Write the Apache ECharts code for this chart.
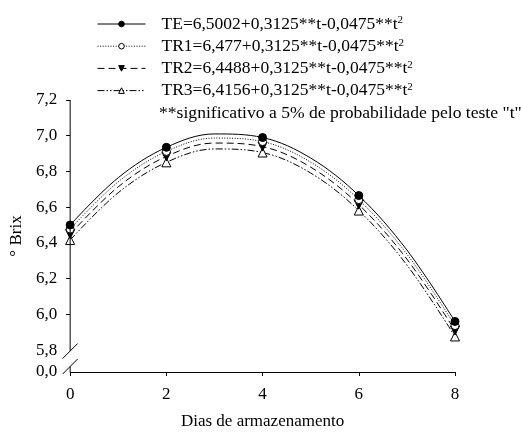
<!DOCTYPE html>
<html>
<head>
<meta charset="utf-8">
<script src="https://cdn.jsdelivr.net/npm/echarts@6/dist/echarts.min.js"></script>
<style>
html,body{margin:0;padding:0;background:#fff}
#c{width:521px;height:435px}
</style>
</head>
<body>
<div id="c"></div>
<script>
// Storage time (days) at which the fitted curves are traced; markers only on sampled days
const days = [0, 1, 2, 3, 4, 5, 6, 7, 8];
const sampledDays = [0, 2, 4, 6, 8];

// Treatments and the intercepts of their fitted equations
const seriesNames = ['TE', 'TR1', 'TR2', 'TR3'];
const intercepts = ['6,5002', '6,477', '6,4488', '6,4156'];
const equationTail = '+0,3125**t-0,0475**t';
const noteText = '**significativo a 5% de probabilidade pelo teste "t"';

// °Brix along each curve, t = 0..8
const brixTE  = [6.500, 6.765, 6.935, 7.010, 6.990, 6.875, 6.665, 6.360, 5.960];
const brixTR1 = [6.477, 6.742, 6.912, 6.987, 6.967, 6.852, 6.642, 6.337, 5.937];
const brixTR2 = [6.449, 6.714, 6.884, 6.959, 6.939, 6.824, 6.614, 6.309, 5.909];
const brixTR3 = [6.416, 6.681, 6.851, 6.926, 6.906, 6.791, 6.581, 6.276, 5.876];

// Axis ticks
const xTicks = [0, 2, 4, 6, 8];
const yTicks = [5.8, 6.0, 6.2, 6.4, 6.6, 6.8, 7.0, 7.2];
const yTickMarks = [6.0, 6.2, 6.4, 6.6, 6.8, 7.0, 7.2];
const yBottom = 5.677;   // where the broken axis meets the x axis ("0,0")
const yTop = 7.2;

const FONT = '"Liberation Serif", "Times New Roman", serif';
const INK = '#000';

const styles = [
  { symbol: 'circle',   rotate: 0,   fill: INK,    dash: 'solid' },
  { symbol: 'circle',   rotate: 0,   fill: '#fff', dash: [1, 1.6] },
  { symbol: 'triangle', rotate: 180, fill: INK,    dash: [7, 4] },
  { symbol: 'triangle', rotate: 0,   fill: '#fff', dash: [7, 2, 1.5, 2, 1.5, 2] }
];

const values = [brixTE, brixTR1, brixTR2, brixTR3];

const series = seriesNames.map((name, k) => ({
  name: name,
  type: 'line',
  smooth: 0.35,
  showSymbol: true,
  symbol: styles[k].symbol,
  symbolRotate: styles[k].rotate,
  symbolSize: styles[k].symbol === 'circle' ? 8 : 9,
  itemStyle: { color: styles[k].fill, borderColor: INK, borderWidth: 1 },
  lineStyle: { color: INK, width: 1, type: styles[k].dash },
  emphasis: { disabled: true },
  z: 10 - k,
  data: days.map((d, i) => sampledDays.includes(d)
    ? { value: [d, values[k][i]] }
    : { value: [d, values[k][i]], symbol: 'none' })
}));

const chart = echarts.init(document.getElementById('c'), null, { renderer: 'canvas' });

const fmt = v => v.toFixed(1).replace('.', ',');

chart.setOption({
  animation: false,
  backgroundColor: '#fff',
  grid: { left: 68, right: 66, top: 100, bottom: 62, containLabel: false },
  legend: {
    orient: 'vertical',
    left: 97,
    top: 15,
    padding: 0,
    itemWidth: 48,
    itemHeight: 7,
    itemGap: 4.2,
    data: seriesNames,
    lineStyle: { width: 1 },
    itemStyle: { borderWidth: 1 },
    formatter: name => {
      const k = seriesNames.indexOf(name);
      return '{n|' + name + '=' + intercepts[k] + equationTail + '}{s|2}';
    },
    textStyle: {
      color: INK,
      fontFamily: FONT,
      fontSize: 17,
      lineHeight: 18,
      padding: [0, 0, 0, 11],
      rich: {
        n: { fontFamily: FONT, fontSize: 17.5, lineHeight: 18, color: INK },
        s: { fontFamily: FONT, fontSize: 11, lineHeight: 18, color: INK, verticalAlign: 'top', padding: [0, 0, 6, 0] }
      }
    },
    selectedMode: false
  },
  xAxis: {
    type: 'value',
    min: 0,
    max: 8,
    interval: 2,
    name: 'Dias de armazenamento',
    nameLocation: 'middle',
    nameGap: 41,
    nameTextStyle: { fontFamily: FONT, fontSize: 17, color: INK },
    axisLine: { show: true, lineStyle: { color: INK, width: 1 } },
    axisTick: { show: true, inside: false, length: 4, lineStyle: { color: INK } },
    axisLabel: {
      fontFamily: FONT, fontSize: 17, color: INK, margin: 14,
      customValues: xTicks
    },
    splitLine: { show: false }
  },
  yAxis: {
    type: 'value',
    min: yBottom,
    max: yTop,
    name: '° Brix',
    nameLocation: 'middle',
    nameGap: 45,
    nameRotate: 90,
    nameTextStyle: { fontFamily: FONT, fontSize: 17, color: INK },
    axisLine: { show: false },
    axisTick: { show: true, length: 4, lineStyle: { color: INK }, customValues: yTickMarks },
    axisLabel: {
      fontFamily: FONT, fontSize: 17, color: INK, margin: 13,
      customValues: [yBottom].concat(yTicks),
      formatter: v => (v < 5.75 ? '0,0' : fmt(v))
    },
    splitLine: { show: false }
  },
  series: series
});

// Broken y axis: solid line down to 5,8, a gap marked by two slashes, then a stub to the x axis.
// The significance note sits under the legend.
function drawExtras() {
  const top = chart.convertToPixel({ gridIndex: 0 }, [0, yTop]);
  const brk = chart.convertToPixel({ gridIndex: 0 }, [0, 5.8]);
  const bot = chart.convertToPixel({ gridIndex: 0 }, [0, yBottom]);
  const x = top[0];
  const upper = brk[1] + 1;
  const lower = bot[1] - 5.5;
  const s = 7.5;
  const line = (x1, y1, x2, y2) => ({
    type: 'line',
    shape: { x1: x1, y1: y1, x2: x2, y2: y2 },
    style: { stroke: INK, lineWidth: 1 },
    silent: true,
    z: 100
  });
  chart.setOption({
    graphic: [
      line(x, top[1], x, upper),
      line(x, lower, x, bot[1]),
      line(x - s, upper + s, x + s, upper - s),
      line(x - s, lower + s, x + s, lower - s),
      {
        type: 'text',
        x: 159,
        y: 113,
        silent: true,
        style: {
          text: noteText,
          fill: INK,
          font: '17.6px ' + FONT,
          verticalAlign: 'middle',
          align: 'left'
        }
      }
    ]
  });
}
drawExtras();
</script>
</body>
</html>
